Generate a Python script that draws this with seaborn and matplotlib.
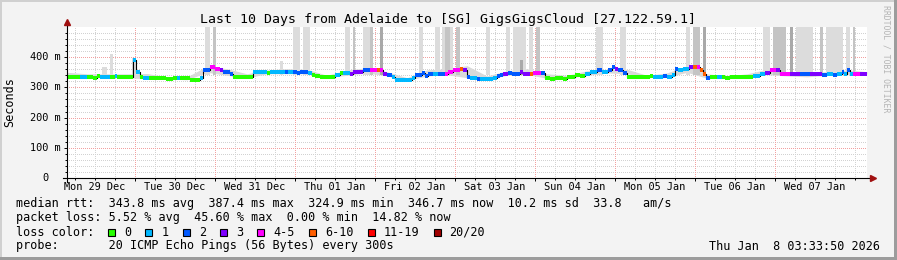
import numpy as np
import pandas as pd
import matplotlib
matplotlib.use("Agg")
import matplotlib.pyplot as plt
import matplotlib.transforms as mtrans
from matplotlib.patches import Rectangle
import seaborn as sns

# ---------------- data ----------------
title = "Last 10 Days from Adelaide to [SG] GigsGigsCloud [27.122.59.1]"

# median rtt segments: start (hours since window start), value (ms), loss class index
seg_start_h = [0.0, 3.9, 6.0, 7.8, 9.0, 9.9, 12.9, 14.4, 15.0, 19.7,
               20.7, 21.75, 22.7, 24.7, 29.7, 31.8, 32.9, 33.9, 36.9, 39.9,
               40.7, 42.9, 44.4, 45.9, 46.9, 48.9, 49.7, 55.9, 59.9, 60.9,
               65.4, 66.3, 67.8, 69.0, 69.9, 72.3, 73.5, 74.4, 75.9, 80.4,
               81.9, 82.8, 84.9, 85.8, 88.8, 90.9, 93.0, 93.9, 94.8, 96.0,
               97.5, 98.4, 103.5, 104.4, 106.5, 107.4, 108.3, 109.8, 111.3, 113.4,
               114.3, 115.8, 117.9, 118.8, 120.0, 120.9, 123.0, 123.9, 127.8, 129.0,
               129.9, 130.8, 132.3, 133.5, 135.9, 136.8, 138.9, 139.8, 142.2, 143.4,
               144.9, 146.4, 148.8, 150.0, 152.4, 153.9, 155.4, 156.9, 159.0, 160.5,
               162.3, 163.5, 164.4, 165.3, 166.8, 168.0, 174.9, 175.8, 178.8, 180.0,
               181.5, 182.4, 183.3, 184.8, 186.6, 187.8, 189.0, 189.9, 190.8, 191.7,
               192.9, 195.0, 196.5, 197.4, 198.9, 205.8, 207.9, 209.4, 210.9, 212.7,
               213.9, 216.9, 219.9, 222.9, 226.5, 228.0, 229.8, 231.0, 232.5, 233.1,
               234.0, 234.9, 235.8, 237.9]
seg_median_ms = [336, 336, 336, 332, 339, 336, 336, 339, 336, 391,
                 352, 336, 332, 332, 329, 332, 332, 332, 325, 332,
                 356, 366, 362, 356, 352, 346, 336, 350, 349, 352,
                 352, 352, 352, 349, 352, 349, 342, 339, 336, 342,
                 349, 349, 346, 352, 356, 356, 356, 356, 346, 342,
                 336, 326, 332, 342, 349, 339, 346, 346, 346, 346,
                 352, 359, 362, 356, 336, 332, 329, 329, 332, 339,
                 342, 346, 349, 346, 352, 346, 346, 349, 349, 332,
                 329, 332, 329, 336, 342, 339, 346, 352, 356, 352,
                 359, 366, 362, 356, 349, 336, 339, 336, 339, 336,
                 342, 362, 359, 362, 369, 369, 366, 356, 346, 332,
                 336, 336, 336, 332, 336, 339, 346, 349, 359, 359,
                 346, 346, 346, 346, 342, 346, 342, 346, 352, 346,
                 356, 346, 346, 346]
seg_loss = [0, 1, 0, 0, 0, 1, 0, 1, 0, 1,
            1, 0, 1, 0, 0, 0, 1, 0, 0, 1,
            2, 4, 4, 3, 2, 2, 0, 1, 0, 1,
            2, 1, 2, 2, 2, 1, 0, 0, 0, 1,
            0, 1, 3, 3, 2, 4, 5, 4, 3, 2,
            1, 1, 1, 2, 2, 2, 2, 1, 2, 4,
            4, 4, 5, 3, 2, 1, 2, 1, 1, 2,
            2, 3, 2, 2, 3, 3, 5, 4, 2, 0,
            0, 0, 0, 0, 0, 0, 1, 1, 2, 1,
            2, 2, 3, 2, 2, 0, 0, 1, 2, 1,
            1, 2, 1, 1, 3, 5, 4, 5, 5, 2,
            0, 1, 0, 0, 0, 1, 1, 3, 4, 3,
            4, 3, 2, 3, 2, 1, 2, 1, 2, 1,
            2, 1, 4, 3]
window_end_h = 240.0

# smoke envelope sampled every 6 hours
env_h = [6 * k for k in range(41)]
env_hi = [350, 345, 345, 345, 346, 335, 335, 370, 362, 345, 358, 362, 360, 340, 358, 365,
          352, 332, 358, 362, 372, 338, 355, 362, 345, 340, 355, 360, 360, 340, 348, 372,
          345, 338, 345, 360, 352, 348, 352, 358, 352]
env_lo = [332, 333, 332, 332, 328, 328, 325, 350, 340, 332, 345, 345, 345, 333, 340, 348,
          338, 323, 338, 342, 332, 327, 340, 343, 330, 330, 340, 348, 345, 333, 333, 350,
          330, 331, 333, 342, 338, 335, 340, 342, 345]

# tall smoke bars (high-latency pings)
bar_start_h = [10.5, 12.9, 19.5, 41.4, 43.8, 63.9, 67.8, 70.8, 83.4, 85.8, 88.8, 90.9,
               93.9, 105.6, 110.4, 112.5, 113.4, 116.7, 125.7, 131.7, 133.8, 135.9, 138.6,
               140.7, 158.7, 165.9, 185.7, 187.8, 190.8, 208.8, 211.8, 216.9, 218.7, 225.9,
               227.7, 233.7, 235.8]
bar_end_h = [12.0, 13.8, 20.7, 42.9, 44.7, 64.8, 69.9, 72.9, 84.9, 86.4, 91.8, 91.8,
             94.8, 106.8, 111.9, 115.8, 114.9, 117.9, 126.9, 132.9, 137.7, 136.8, 139.8,
             141.9, 160.8, 167.7, 186.9, 189.9, 191.7, 210.9, 215.7, 217.8, 223.8, 226.8,
             232.8, 234.9, 236.4]
bar_top_ms = [366, 412, 396, 500, 500, 388, 500, 500, 500, 500, 500, 500,
              500, 500, 500, 500, 500, 500, 500, 500, 500, 390, 500,
              500, 500, 500, 500, 500, 500, 500, 500, 500, 500, 500,
              500, 500, 500]
bar_shade = [0, 0, 0, 0, 1, 0, 0, 0, 0, 1, 0, 1,
             2, 0, 0, 0, 1, 1, 0, 0, 0, 2, 0,
             1, 0, 0, 0, 1, 2, 0, 1, 2, 0, 1,
             0, 0, 1]
bar_base_ms = 340

day_labels = ["Mon 29 Dec", "Tue 30 Dec", "Wed 31 Dec", "Thu 01 Jan", "Fri 02 Jan",
              "Sat 03 Jan", "Sun 04 Jan", "Mon 05 Jan", "Tue 06 Jan", "Wed 07 Jan"]
first_midnight_h = 20.436   # Tue 30 Dec 00:00 relative to 29 Dec 03:33:50
ytick_vals = [0, 100, 200, 300, 400]
ytick_labels = ["0", "100 m", "200 m", "300 m", "400 m"]

loss_labels = ["0", "1", "2", "3", "4-5", "6-10", "11-19", "20/20"]
loss_colors = ["#26ff00", "#00b8ff", "#0059ff", "#7e00ff", "#ff00ff", "#ff5e00", "#ff0000", "#a00000"]

stats_line = "median rtt:  343.8 ms avg  387.4 ms max  324.9 ms min  346.7 ms now  10.2 ms sd  33.8   am/s"
loss_line = "packet loss: 5.52 % avg  45.60 % max  0.00 % min  14.82 % now"
probe_line = "probe:       20 ICMP Echo Pings (56 Bytes) every 300s"
date_line = "Thu Jan  8 03:33:50 2026"

# ---------------- drawing ----------------
W, H = 897, 260
plt.rcParams['font.family'] = ['DejaVu Sans Mono']
fig = plt.figure(figsize=(W / 100, H / 100), dpi=100, facecolor="#f3f3f3")

def fx(x):
    return x / W

def fy(y):
    return 1 - y / H

ax = fig.add_axes([fx(67), fy(178), 800 / W, 151 / H])
ax.set_facecolor("white")
ax.set_xlim(0, window_end_h)
ax.set_ylim(0, 500)
for s in ax.spines.values():
    s.set_visible(False)

# grid (dotted, crisp)
minor_col = "#d2d2d2"
major_col = "#f2a0a0"
dot = (0, (1, 2))
midnights = [first_midnight_h + 24 * k for k in range(9)]
h0 = first_midnight_h % 6
for k in range(41):
    t = h0 + 6 * k
    if t > window_end_h:
        break
    if any(abs(t - m) < 0.1 for m in midnights):
        continue
    ax.axvline(t, color=minor_col, lw=0.72, ls=dot, zorder=0.5, antialiased=False)
for v in range(20, 500, 20):
    if v % 100 == 0:
        continue
    ax.axhline(v, color=minor_col, lw=0.72, ls=dot, zorder=0.5, antialiased=False)
for m in midnights:
    ax.axvline(m, color=major_col, lw=0.72, ls=dot, zorder=0.6, antialiased=False)
for v in [100, 200, 300, 400]:
    ax.axhline(v, color=major_col, lw=0.72, ls=dot, zorder=0.6, antialiased=False)

# smoke
ax.fill_between(env_h, env_lo, env_hi, color="#d9d9d9", lw=0, zorder=1)
shades = ["#dcdcdc", "#c4c4c4", "#a9a9a9"]
bars = pd.DataFrame({"t0": bar_start_h, "t1": bar_end_h, "top": bar_top_ms, "shade": bar_shade})
for r in bars.itertuples():
    ax.bar(r.t0, r.top - bar_base_ms, width=r.t1 - r.t0, bottom=bar_base_ms, align="edge",
           color=shades[r.shade], lw=0, zorder=1.2 + 0.1 * r.shade)

# median line
med = pd.DataFrame({"t": seg_start_h + [window_end_h],
                    "v": seg_median_ms + [seg_median_ms[-1]]})
sns.lineplot(data=med, x="t", y="v", drawstyle="steps-post", color="black", lw=0.8,
             ax=ax, zorder=3, sort=False, estimator=None)
t_end = seg_start_h[1:] + [window_end_h]
ax.hlines(seg_median_ms, seg_start_h, t_end, colors=[loss_colors[i] for i in seg_loss],
          lw=1.45, zorder=4, antialiased=False)
ax.set_xlabel("")
ax.set_ylabel("")

# ticks
ax.set_xticks(midnights)
ax.set_xticks([h0 + 6 * k for k in range(40)], minor=True)
ax.set_yticks(ytick_vals)
ax.set_yticks(list(range(20, 500, 20)), minor=True)
ax.tick_params(axis="x", which="major", length=2.2, width=0.7, labelbottom=False, color="black")
ax.tick_params(axis="x", which="minor", length=1.4, width=0.7, color="black")
ax.tick_params(axis="y", which="major", length=2.2, width=0.7, labelleft=False, color="black")
ax.tick_params(axis="y", which="minor", length=1.4, width=0.7, color="black")

# axis lines with arrows
ax.plot([-0.005, 1.003], [0, 0], transform=ax.transAxes, color="black", lw=0.8, clip_on=False, zorder=5)
ax.plot([0, 0], [-0.025, 1.015], transform=ax.transAxes, color="black", lw=0.8, clip_on=False, zorder=5)
ax.plot([1.008], [0], marker=">", ms=4.5, color="#a01010", mec="#a01010", transform=ax.transAxes, clip_on=False, zorder=6)
ax.plot([0], [1.03], marker="^", ms=4.5, color="#a01010", mec="#a01010", transform=ax.transAxes, clip_on=False, zorder=6)

# tick labels
tick_fs = 7.4
adv = 0.602 * tick_fs * 100 / 72
ty = mtrans.blended_transform_factory(ax.transAxes, ax.transData)
for v, lab in zip(ytick_vals, ytick_labels):
    xpix = 30 + 2 * adv if lab == "0" else 30
    ax.text((xpix - 67) / 800, v, lab, transform=ty, ha="left", va="center", fontsize=tick_fs)
tx = mtrans.blended_transform_factory(ax.transData, ax.transAxes)
for k, lab in enumerate(day_labels):
    ax.text(first_midnight_h - 12 + 24 * k, -(187.5 - 178) / 151, lab, transform=tx,
            ha="center", va="center", fontsize=tick_fs)

# texts
fig.text(fx(448), fy(19), title, ha="center", va="center", fontsize=9.5)
fig.text(fx(10), fy(102), "Seconds", rotation=90, ha="center", va="center", fontsize=8.5)
fig.text(fx(886), fy(5), "RRDTOOL / TOBI OETIKER", rotation=270, ha="center", va="top",
         fontsize=5.9, color="#b4b4b4")

leg_fs = 8.5
cw = 7.12
fig.text(fx(16), fy(204), stats_line, ha="left", va="center", fontsize=leg_fs)
fig.text(fx(16), fy(218), loss_line, ha="left", va="center", fontsize=leg_fs)
fig.text(fx(16), fy(232), "loss color:", ha="left", va="center", fontsize=leg_fs)
fig.text(fx(16), fy(246), probe_line, ha="left", va="center", fontsize=leg_fs)
fig.text(fx(880), fy(246), date_line, ha="right", va="center", fontsize=leg_fs)

bx = 108.0
for lab, col in zip(loss_labels, loss_colors):
    fig.patches.append(Rectangle((fx(bx), fy(235.5)), 7 / W, 7 / H, transform=fig.transFigure,
                                 facecolor=col, edgecolor="black", lw=0.8, figure=fig))
    lx = bx + 16
    fig.text(fx(lx), fy(232), lab, ha="left", va="center", fontsize=leg_fs)
    bx = lx + (len(lab) + 2) * cw

# 3D frame
fig.patches.append(Rectangle((0, fy(2)), 1, 2 / H, transform=fig.transFigure, facecolor="#d0d0d0", lw=0, figure=fig))
fig.patches.append(Rectangle((0, 0), 2 / W, 1, transform=fig.transFigure, facecolor="#d0d0d0", lw=0, figure=fig))
fig.patches.append(Rectangle((0, 0), 1, 3 / H, transform=fig.transFigure, facecolor="#9c9c9c", lw=0, figure=fig))
fig.patches.append(Rectangle((fx(894), 0), 3 / W, 1, transform=fig.transFigure, facecolor="#9c9c9c", lw=0, figure=fig))

fig.savefig("out.png", dpi=100, facecolor=fig.get_facecolor())
